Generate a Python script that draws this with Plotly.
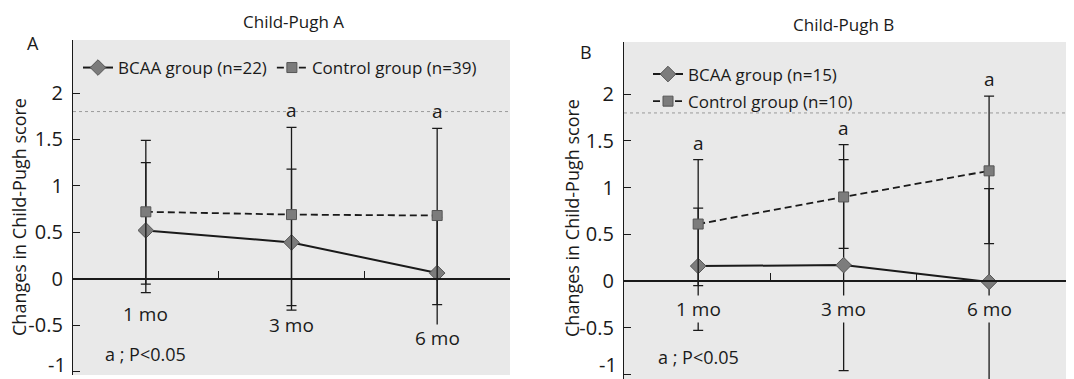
import plotly.graph_objects as go

W, H = 1074, 379
OFF = 8  # page body margin of the browser, in px

# ---------------- data ----------------
months = ["1 mo", "3 mo", "6 mo"]
xpos = [1, 2, 3]

# Panel A: Child-Pugh A
a_bcaa = [0.52, 0.39, 0.06]
a_bcaa_plus = [0.73, 0.79, 0.60]
a_bcaa_minus = [0.67, 0.73, 0.61]
a_ctrl = [0.72, 0.69, 0.68]
a_ctrl_plus = [0.77, 0.94, 0.94]
a_ctrl_minus = [0.78, 0.98, 0.96]
a_sig = [False, True, True]
a_names = ["BCAA group (n=22)", "Control group (n=39)"]

# Panel B: Child-Pugh B
b_bcaa = [0.16, 0.17, -0.01]
b_bcaa_plus = [0.62, 1.13, 1.00]
b_bcaa_minus = [0.69, 1.13, 1.10]
b_ctrl = [0.61, 0.90, 1.18]
b_ctrl_plus = [0.69, 0.56, 0.80]
b_ctrl_minus = [0.66, 0.55, 0.78]
b_sig = [True, True, True]
b_names = ["BCAA group (n=15)", "Control group (n=10)"]

ytick_vals = [-1, -0.5, 0, 0.5, 1, 1.5, 2]
ytick_text = ["", "-0.5", "0", "0.5", "1", "1.5", "2"]
bottom_tick_label = "-1"

# label heights of the month labels (in data units)
a_label_y = [-0.38, -0.50, -0.64]
b_label_y = [-0.30, -0.30, -0.30]

FONT = "Open Sans"
INK = "#1a1a1a"
BG = "#e9e9e9"

# --------------- layout helpers (screen pixel geometry) ---------------
def px_x(p):
    return (p - OFF) / W

def px_y(p):
    return 1 - (p - OFF) / H

# panel A geometry (screen px)
A_left, A_right, A_top, A_bot = 73, 510, 40, 375
A_yrange = [-1.038, 2.571]
A_xrange = [0.5, 3.5]
# panel B geometry
B_left, B_right, B_top, B_bot = 624, 1072, 42, 379
B_yrange = [-1.05, 2.56]
B_xrange = [0.49, 3.57]


def zero_pos(top, bot, yr):
    d0, d1 = px_y(bot), px_y(top)
    return d0 + (0 - yr[0]) / (yr[1] - yr[0]) * (d1 - d0)


fig = go.Figure()


def add_panel(xa, ya, bcaa, bp, bm, ctrl, cp, cm, names, legend, sig, label_y):
    fig.add_trace(go.Scatter(
        x=xpos, y=bcaa, xaxis=xa, yaxis=ya, name=names[0], legend=legend,
        legendgroup=legend + "b",
        mode="lines+markers",
        line=dict(color=INK, width=2),
        marker=dict(symbol="diamond", size=12, color="#7c7c7c",
                    line=dict(color="#555", width=1)),
        error_y=dict(type="data", symmetric=False, array=bp, arrayminus=bm,
                     color=INK, thickness=1.3, width=5),
    ))
    fig.add_trace(go.Scatter(
        x=xpos, y=ctrl, xaxis=xa, yaxis=ya, name=names[1], legend=legend,
        legendgroup=legend + "c",
        mode="lines+markers",
        line=dict(color=INK, width=1.8, dash="7px,4px"),
        marker=dict(symbol="square", size=10, color="#7c7c7c",
                    line=dict(color="#555", width=1)),
        error_y=dict(type="data", symmetric=False, array=cp, arrayminus=cm,
                     color=INK, thickness=1.3, width=5),
    ))
    # significance marks above control error bar tops
    for xi, c, p, s in zip(xpos, ctrl, cp, sig):
        if s:
            fig.add_annotation(x=xi, y=c + p, xref=xa, yref=ya, text="a",
                               showarrow=False, yanchor="bottom", yshift=2,
                               font=dict(family=FONT, size=19, color=INK))
    # month labels
    for xi, m, ly in zip(xpos, months, label_y):
        fig.add_annotation(x=xi, y=ly, xref=xa, yref=ya, text=m,
                           showarrow=False, bgcolor=BG, borderpad=0,
                           font=dict(family=FONT, size=19, color=INK))
    fig.add_annotation(x=1, y=-0.81, xref=xa, yref=ya, text="a ; P<0.05",
                       showarrow=False,
                       font=dict(family=FONT, size=18, color=INK))
    # faint scan line
    fig.add_shape(type="line", xref=xa + " domain", yref=ya, x0=0, x1=1,
                  y0=1.8, y1=1.8, line=dict(color="#9a9a9a", width=1, dash="dot"),
                  layer="below")


add_panel("x", "y", a_bcaa, a_bcaa_plus, a_bcaa_minus, a_ctrl, a_ctrl_plus,
          a_ctrl_minus, a_names, "legend", a_sig, a_label_y)
add_panel("x2", "y2", b_bcaa, b_bcaa_plus, b_bcaa_minus, b_ctrl, b_ctrl_plus,
          b_ctrl_minus, b_names, "legend2", b_sig, b_label_y)


def xaxis_cfg(left, right, top, bot, xr, yr, ya):
    return dict(domain=[px_x(left), px_x(right)], range=xr, anchor="free",
                position=zero_pos(top, bot, yr), showgrid=False, zeroline=False,
                showline=True, linecolor=INK, linewidth=1.6, ticks="inside",
                ticklen=7, tickwidth=1.3, tickcolor=INK,
                tickvals=[1.5, 2.5, xr[1]], showticklabels=False,
                automargin=False, fixedrange=True)


def yaxis_cfg(top, bot, yr, xa):
    return dict(domain=[max(0, px_y(bot)), px_y(top)], range=yr, anchor=xa,
                showgrid=False, zeroline=False, showline=True, linecolor=INK,
                linewidth=1.3, ticks="inside", ticklen=7, tickwidth=1.2,
                tickcolor=INK, tickvals=ytick_vals, ticktext=ytick_text,
                ticklabelstandoff=5, ticklabeloverflow="allow",
                automargin=False,
                tickfont=dict(family=FONT, size=20, color=INK), fixedrange=True)


# keep y scales exact when the bottom is clipped by the figure edge
def adj_range(top, bot, yr):
    if px_y(bot) >= 0:
        return yr
    upp = (yr[1] - yr[0]) / (bot - top)
    new_bot = H + OFF
    return [yr[1] - (new_bot - top) * upp, yr[1]]


A_yr = adj_range(A_top, A_bot, A_yrange)
B_yr = adj_range(B_top, B_bot, B_yrange)
A_b = min(A_bot, H + OFF)
B_b = min(B_bot, H + OFF)

fig.update_layout(
    width=W, height=H,
    margin=dict(l=0, r=0, t=0, b=0),
    paper_bgcolor="white",
    plot_bgcolor=BG,
    font=dict(family=FONT, color=INK),
    xaxis=xaxis_cfg(A_left, A_right, A_top, A_b, A_xrange, A_yr, "y"),
    yaxis=yaxis_cfg(A_top, A_b, A_yr, "x"),
    xaxis2=xaxis_cfg(B_left, B_right, B_top, B_b, B_xrange, B_yr, "y2"),
    yaxis2=yaxis_cfg(B_top, B_b, B_yr, "x2"),
    legend=dict(orientation="h", x=px_x(78), y=px_y(68), xanchor="left",
                yanchor="middle", bgcolor="rgba(0,0,0,0)",
                font=dict(family=FONT, size=17, color=INK), itemwidth=30,
                tracegroupgap=0),
    legend2=dict(orientation="v", x=px_x(648), y=px_y(88), xanchor="left",
                 yanchor="middle", bgcolor="rgba(0,0,0,0)",
                 font=dict(family=FONT, size=17, color=INK), itemwidth=30,
                 tracegroupgap=2),
    showlegend=True,
)

# bottom "-1" tick labels, kept just inside the visible picture
for left in (A_left, B_left):
    fig.add_annotation(x=px_x(left - 6), y=px_y(379), xref="paper", yref="paper",
                       text=bottom_tick_label, showarrow=False,
                       xanchor="right", yanchor="bottom", borderpad=0,
                       font=dict(family=FONT, size=20, color=INK))

# panel titles (top-anchored so they stay fully visible)
for t, xx, yy in [("Child-Pugh A", 293, 9), ("Child-Pugh B", 843, 12)]:
    fig.add_annotation(x=px_x(xx), y=px_y(yy), xref="paper", yref="paper",
                       text=t, showarrow=False, xanchor="center", yanchor="top",
                       borderpad=0, font=dict(family=FONT, size=17, color=INK))

# panel letters and y-axis titles
texts = [
    ("A", 33, 43, 18, 0),
    ("B", 586, 52, 18, 0),
    ("Changes in Child-Pugh score", 19, 217, 18, -90),
    ("Changes in Child-Pugh score", 572, 218, 18, -90),
]
for t, xx, yy, sz, ang in texts:
    fig.add_annotation(x=px_x(xx), y=px_y(yy), xref="paper", yref="paper",
                       text=t, showarrow=False, textangle=ang,
                       xanchor="center", yanchor="middle",
                       font=dict(family=FONT, size=sz, color=INK))

fig.write_html("out.html")
